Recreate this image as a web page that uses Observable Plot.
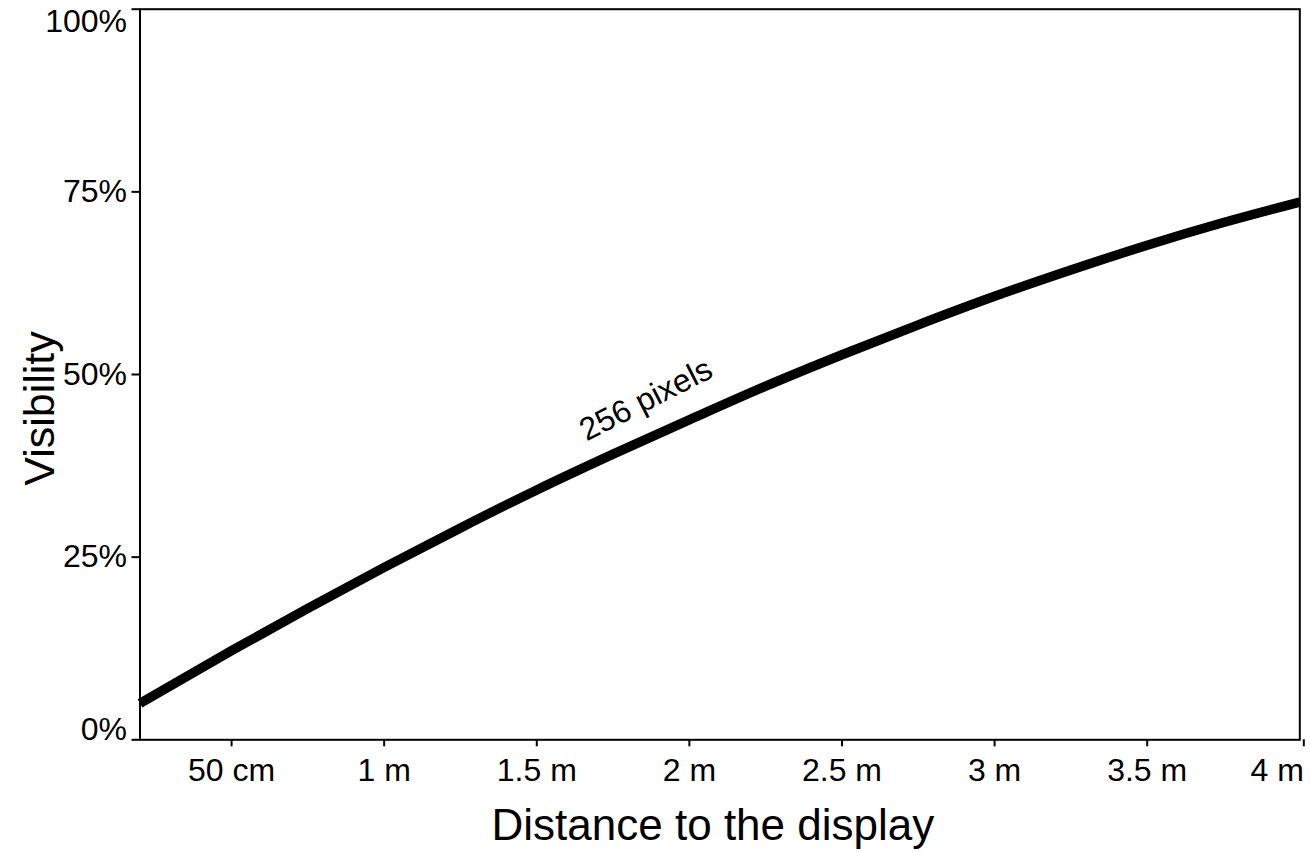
<!DOCTYPE html>
<html>
<head>
<meta charset="utf-8">
<script src="https://cdn.jsdelivr.net/npm/d3@7"></script>
<script src="https://cdn.jsdelivr.net/npm/@observablehq/plot@0.6"></script>
<style>
  html, body { margin: 0; padding: 0; background: #fff; }
  #chart svg { display: block; }
</style>
</head>
<body>
<div id="chart"></div>
<script>
// Distance to the display (metres) and visibility (%) for the 256-pixel curve
const distances  = [0.2, 0.5, 0.75, 1.0, 1.25, 1.5, 1.75, 2.0, 2.25, 2.5, 2.75, 3.0, 3.25, 3.5, 3.75, 4.0];
const visibility = [5.0, 12.2, 18.0, 23.6, 29.0, 34.2, 39.1, 43.8, 48.4, 52.7, 56.8, 60.7, 64.3, 67.7, 70.8, 73.6];

const xTicks      = [0.5, 1, 1.5, 2, 2.5, 3, 3.5, 4];
const xTickLabels = ["50 cm", "1 m", "1.5 m", "2 m", "2.5 m", "3 m", "3.5 m", "4 m"];
const yTicks      = [0, 25, 50, 75, 100];
const yTickLabels = ["0%", "25%", "50%", "75%", "100%"];

const seriesLabel = "256 pixels";
const labelAt = {x: 1.873, y: 45.3};
const xTitle = "Distance to the display";
const yTitle = "Visibility";

const rows = distances.map((d, i) => ({d, v: visibility[i]}));
const xFmt = t => xTickLabels[xTicks.indexOf(t)];
const yFmt = t => yTickLabels[yTicks.indexOf(t)];
const font = "'Liberation Sans', Arial, Helvetica, sans-serif";
const tickFont = 32;

const chart = Plot.plot({
  width: 1310,
  height: 852,
  marginLeft: 139.5,
  marginRight: 10.7,
  marginTop: 8.7,
  marginBottom: 112.7,
  style: {fontFamily: font, fontSize: "32px", background: "#fff", color: "#000"},
  x: {domain: [0.2, 4]},
  y: {domain: [0, 100]},
  marks: [
    Plot.frame({stroke: "#000", strokeWidth: 2}),
    Plot.axisX(xTicks.slice(0, -1), {tickSize: 7, tickPadding: 11, tickFormat: xFmt, label: null, strokeWidth: 2, fontSize: tickFont}),
    Plot.axisX(xTicks.slice(-1), {tickSize: 7, tickPadding: 11, tickFormat: xFmt, label: null, strokeWidth: 2, fontSize: tickFont, textAnchor: "end", dx: 4}),
    Plot.axisY([25, 50, 75], {tickSize: 8, tickPadding: 5, tickFormat: yFmt, label: null, strokeWidth: 2, fontSize: tickFont}),
    Plot.axisY([0], {tickSize: 8, tickPadding: 5, tickFormat: yFmt, label: null, strokeWidth: 2, fontSize: tickFont, lineAnchor: "bottom"}),
    Plot.axisY([100], {tickSize: 8, tickPadding: 5, tickFormat: yFmt, label: null, strokeWidth: 2, fontSize: tickFont, lineAnchor: "top"}),
    Plot.line(rows, {x: "d", y: "v", curve: "monotone-x", stroke: "#000", strokeWidth: 9.5, strokeLinecap: "butt"}),
    Plot.text([labelAt], {x: "x", y: "y", text: () => seriesLabel, rotate: -27, textAnchor: "middle", lineAnchor: "bottom", fontSize: 32, fill: "#000"}),
    Plot.text([xTitle], {frameAnchor: "bottom", text: d => d, dx: -7, dy: 100, lineAnchor: "bottom", fontSize: 44, fill: "#000"}),
    Plot.text([yTitle], {frameAnchor: "left", text: d => d, rotate: -90, dx: -86, dy: 34, lineAnchor: "bottom", textAnchor: "middle", fontSize: 43, fill: "#000"})
  ]
});
document.getElementById("chart").appendChild(chart);
</script>
</body>
</html>
